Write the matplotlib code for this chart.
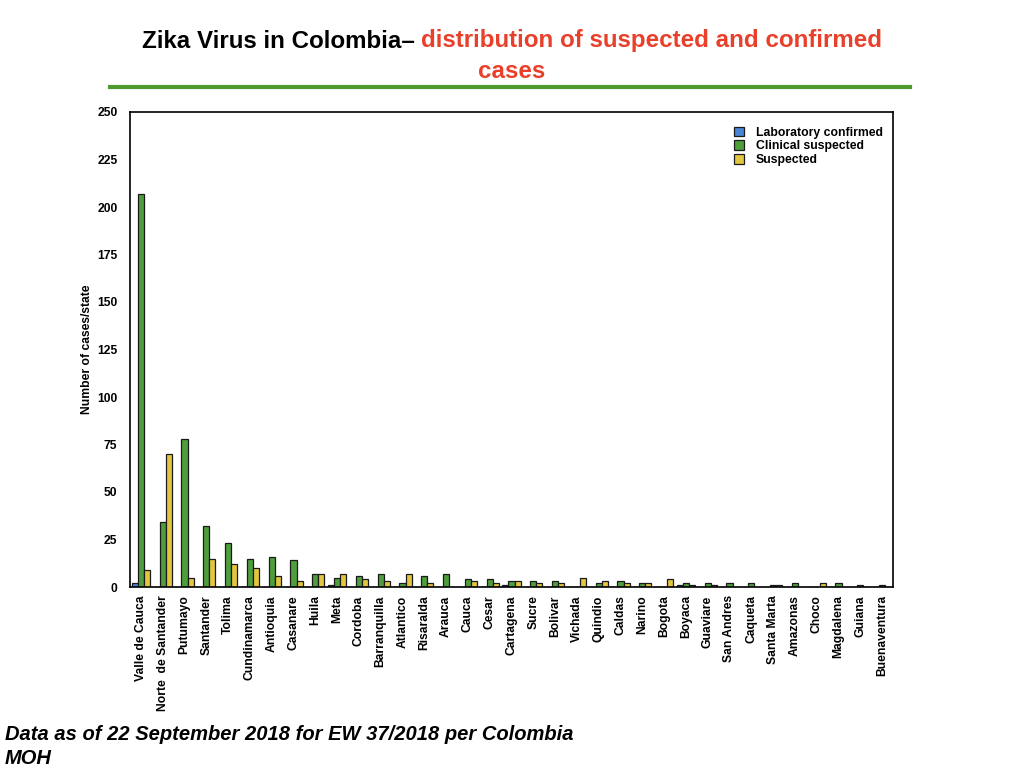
import numpy as np
import matplotlib
matplotlib.use("Agg")
import matplotlib.pyplot as plt
from matplotlib.lines import Line2D

# Datos
estados = ["Valle de Cauca", "Norte  de Santander", "Putumayo", "Santander", "Tolima",
           "Cundinamarca", "Antioquia", "Casanare", "Huila", "Meta", "Cordoba",
           "Barranquilla", "Atlantico", "Risaralda", "Arauca", "Cauca", "Cesar",
           "Cartagena", "Sucre", "Bolivar", "Vichada", "Quindio", "Caldas", "Narino",
           "Bogota", "Boyaca", "Guaviare", "San Andres", "Caqueta", "Santa Marta",
           "Amazonas", "Choco", "Magdalena", "Guiana", "Buenaventura"]
lab_confirmed = [2, 0, 0, 0, 0, 0, 0, 0, 0, 1, 0, 0, 0, 0, 0, 0, 0, 1, 0, 0,
                 0, 0, 0, 0, 0, 1, 0, 0, 0, 0, 0, 0, 0, 0, 0]
clinical_suspected = [207, 34, 78, 32, 23, 15, 16, 14, 7, 5, 6, 7, 2, 6, 7, 4, 4, 3, 3, 3,
                      0, 2, 3, 2, 0, 2, 2, 2, 2, 1, 2, 0, 2, 1, 1]
suspected = [9, 70, 5, 15, 12, 10, 6, 3, 7, 7, 4, 3, 7, 2, 0, 3, 2, 3, 2, 2,
             5, 3, 2, 2, 4, 1, 1, 0, 0, 1, 0, 2, 0, 0, 0]
y_ticks = [0, 25, 50, 75, 100, 125, 150, 175, 200, 225, 250]

azul = "#4a84d6"
verde = "#4f9e3c"
amarillo = "#e3c640"

plt.rcParams['font.family'] = ['Liberation Sans', 'DejaVu Sans']

fig = plt.figure(figsize=(10.24, 7.68), dpi=100)
ax = fig.add_axes([130/1024, 1-587/768, 763/1024, 475/768])

x = np.arange(len(estados))
w = 0.28
ax.bar(x - w, lab_confirmed, w, color=azul, edgecolor="#1a1a1a", linewidth=0.9,
       label="Laboratory confirmed")
ax.bar(x, clinical_suspected, w, color=verde, edgecolor="#1a1a1a", linewidth=0.9,
       label="Clinical suspected")
ax.bar(x + w, suspected, w, color=amarillo, edgecolor="#1a1a1a", linewidth=0.9,
       label="Suspected")

ax.set_xlim(-0.5, len(estados) - 0.5)
ax.set_ylim(0, 250)
ax.set_yticks(y_ticks)
ax.set_yticklabels([str(v) for v in y_ticks], fontsize=8.7, fontweight="bold")
ax.set_xticks(x)
ax.set_xticklabels(estados, rotation=90, fontsize=8.7, fontweight="bold")
ax.tick_params(length=0)
ax.tick_params(axis="x", pad=6)
ax.tick_params(axis="y", pad=9)
for s in ax.spines.values():
    s.set_linewidth(1.2)
ax.set_ylabel("Number of cases/state", fontsize=8.7, fontweight="bold", labelpad=3)

leg = ax.legend(loc="upper right", frameon=False, fontsize=8.8, handlelength=0.8,
                handleheight=0.8, handletextpad=1.0, labelspacing=0.15,
                borderaxespad=0.4, bbox_to_anchor=(0.9995, 0.99))
for t in leg.get_texts():
    t.set_fontweight("bold")

# titulo en dos colores
tfont = dict(fontsize=17.4, fontweight="bold", va="center")
t1 = fig.text(0, 1-41/768, "Zika Virus in Colombia\u2013 ", color="black", ha="left", **tfont)
t2 = fig.text(0, 1-41/768, "distribution of suspected and confirmed", color="#e8402a",
              ha="left", **tfont)
fig.canvas.draw()
r = fig.canvas.get_renderer()
w1 = t1.get_window_extent(r).width
w2 = t2.get_window_extent(r).width
x0 = 512 - (w1 + w2) / 2
t1.set_x(x0 / 1024)
t2.set_x((x0 + w1) / 1024)
fig.text(0.5, 1-72/768, "cases", color="#e8402a", ha="center", **tfont)

fig.add_artist(Line2D([110/1024, 910/1024], [1-86.5/768, 1-86.5/768],
                      color="#4e9a2e", linewidth=3, transform=fig.transFigure))

fig.text(5/1024, 1-735/768, "Data as of 22 September 2018 for EW 37/2018 per Colombia",
         fontsize=14.5, fontweight="bold", fontstyle="italic", va="center")
fig.text(5/1024, 1-758/768, "MOH",
         fontsize=14.5, fontweight="bold", fontstyle="italic", va="center")

plt.savefig("out.png", dpi=100)
